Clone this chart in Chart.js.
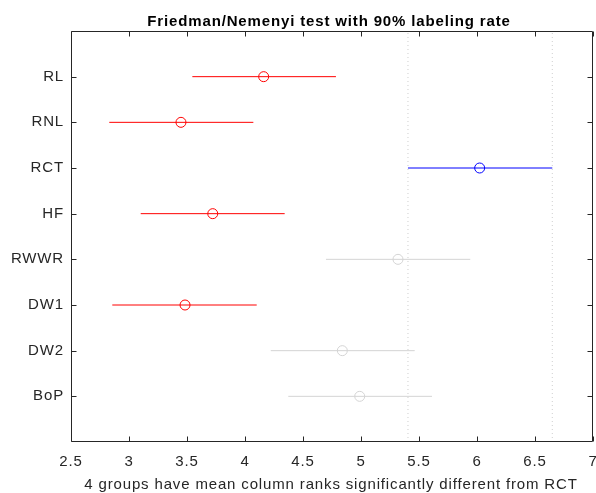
<!DOCTYPE html>
<html>
<head>
<meta charset="utf-8">
<script src="https://cdn.jsdelivr.net/npm/chart.js@4.4.1/dist/chart.umd.min.js"></script>
<style>
  html, body { margin: 0; padding: 0; background: #ffffff; }
  #wrap { width: 596px; height: 493px; }
</style>
</head>
<body>
<div id="wrap"><canvas id="c" width="596" height="493"></canvas></div>
<script>
// ---- data ----
const groups = ['RL', 'RNL', 'RCT', 'HF', 'RWWR', 'DW1', 'DW2', 'BoP'];
const meanRank = [4.161, 3.448, 6.023, 3.722, 5.319, 3.483, 4.839, 4.989];
const lowerCI  = [3.546, 2.830, 5.405, 3.101, 4.698, 2.856, 4.222, 4.373];
const upperCI  = [4.784, 4.072, 6.649, 4.342, 5.942, 4.101, 5.463, 5.612];
const status   = ['sig', 'sig', 'ref', 'sig', 'ns', 'sig', 'ns', 'ns'];
const refGroup = 'RCT';
const xTicks = [2.5, 3, 3.5, 4, 4.5, 5, 5.5, 6, 6.5, 7];
const titleText = 'Friedman/Nemenyi test with 90% labeling rate';
const xLabelText = '4 groups have mean column ranks significantly different from RCT';

// ---- styling ----
const colorOf = { sig: '#ff0000', ref: '#0000ff', ns: '#d4d4d4' };
const axisColor = '#262626';
const FONT = '"Liberation Sans", Arial, sans-serif';
const SPACING = '0.85px';
const n = groups.length;
const yPos = groups.map((g, i) => n - i);

const datasets = [];
const refIdx = groups.indexOf(refGroup);
// dotted reference bounds
[lowerCI[refIdx], upperCI[refIdx]].forEach(v => {
  datasets.push({
    type: 'line',
    data: [{ x: v, y: 0 }, { x: v, y: n + 1 }],
    borderColor: '#cfcfcf',
    borderWidth: 1,
    borderDash: [1, 3],
    pointRadius: 0,
    fill: false
  });
});
// interval lines
groups.forEach((g, i) => {
  datasets.push({
    type: 'line',
    data: [{ x: lowerCI[i], y: yPos[i] }, { x: upperCI[i], y: yPos[i] }],
    borderColor: colorOf[status[i]],
    borderWidth: 1,
    pointRadius: 0,
    fill: false
  });
});
// mean markers
datasets.push({
  type: 'scatter',
  data: groups.map((g, i) => ({ x: meanRank[i], y: yPos[i] })),
  pointStyle: 'circle',
  pointRadius: 5,
  pointHoverRadius: 5,
  pointBorderWidth: 1,
  pointBackgroundColor: 'rgba(0,0,0,0)',
  pointBorderColor: groups.map((g, i) => colorOf[status[i]])
});

const spacingPlugin = {
  id: 'spacing',
  beforeInit(chart) { chart.ctx.letterSpacing = SPACING; },
  beforeLayout(chart) { chart.ctx.letterSpacing = SPACING; },
  beforeDraw(chart) { chart.ctx.letterSpacing = SPACING; }
};

const boxPlugin = {
  id: 'matlabBox',
  afterDraw(chart) {
    const { ctx, chartArea: a, scales } = chart;
    const x = scales.x, y = scales.y;
    ctx.save();
    ctx.strokeStyle = axisColor;
    ctx.lineWidth = 1;
    const L = Math.round(a.left) + 0.5, R = Math.round(a.right) - 0.5;
    const T = Math.round(a.top) + 0.5, B = Math.round(a.bottom) - 0.5;
    ctx.beginPath();
    ctx.rect(L, T, R - L, B - T);
    ctx.stroke();
    const tl = 5;
    ctx.beginPath();
    xTicks.forEach(v => {
      const px = Math.round(x.getPixelForValue(v)) + 0.5;
      ctx.moveTo(px, B); ctx.lineTo(px, B - tl);
      ctx.moveTo(px, T); ctx.lineTo(px, T + tl);
    });
    yPos.forEach(v => {
      const py = Math.round(y.getPixelForValue(v)) + 0.5;
      ctx.moveTo(L, py); ctx.lineTo(L + tl, py);
      ctx.moveTo(R, py); ctx.lineTo(R - tl, py);
    });
    ctx.stroke();
    // title and x label
    const cx = (a.left + a.right) / 2;
    ctx.letterSpacing = SPACING;
    ctx.fillStyle = '#000000';
    ctx.textAlign = 'center';
    ctx.textBaseline = 'alphabetic';
    ctx.font = 'bold 15px ' + FONT;
    ctx.fillText(titleText, cx - 3, 26);
    ctx.fillStyle = axisColor;
    ctx.font = '15px ' + FONT;
    ctx.fillText(xLabelText, cx - 1, 489);
    ctx.restore();
  }
};

new Chart(document.getElementById('c'), {
  data: { datasets },
  options: {
    responsive: false,
    animation: false,
    devicePixelRatio: 1,
    layout: { autoPadding: false, padding: { left: 0, right: 3, top: 31, bottom: 0 } },
    plugins: { legend: { display: false }, tooltip: { enabled: false }, title: { display: false } },
    scales: {
      x: {
        type: 'linear',
        min: 2.5, max: 7,
        afterBuildTicks: s => { s.ticks = xTicks.map(v => ({ value: v })); },
        afterFit: s => { s.height = 51; s.paddingLeft = 0; s.paddingRight = 0; },
        grid: { display: false, drawTicks: false },
        border: { display: false },
        ticks: {
          padding: 11,
          color: axisColor,
          font: { family: FONT, size: 15 },
          maxRotation: 0, autoSkip: false,
          callback: v => String(v)
        }
      },
      y: {
        type: 'linear',
        min: 0, max: n + 1,
        afterBuildTicks: s => { s.ticks = yPos.map(v => ({ value: v })); },
        afterFit: s => { s.width = 71; s.paddingTop = 0; s.paddingBottom = 0; },
        grid: { display: false, drawTicks: false },
        border: { display: false },
        ticks: {
          padding: 7,
          color: axisColor,
          font: { family: FONT, size: 15 },
          autoSkip: false,
          callback: v => groups[n - v]
        }
      }
    }
  },
  plugins: [spacingPlugin, boxPlugin]
});
</script>
</body>
</html>
